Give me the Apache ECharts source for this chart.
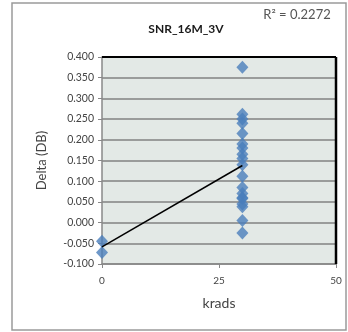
<!DOCTYPE html>
<html><head><meta charset="utf-8">
<script src="https://cdn.jsdelivr.net/npm/echarts@6/dist/echarts.min.js"></script>
<style>html,body{margin:0;padding:0;background:#fff}#c{width:348px;height:332px}</style>
</head><body><div id="c"></div>
<script>
const title = 'SNR_16M_3V';
const rSquaredText = 'R² = 0.2272';
const xName = 'krads';
const yName = 'Delta (DB)';
const krads0 = [0, 0];
const delta0 = [-0.045, -0.072];
const krads30 = [30,30,30,30,30,30,30,30,30,30,30,30,30,30,30,30,30,30,30];
const delta30 = [0.375, 0.262, 0.250, 0.240, 0.215, 0.190, 0.180, 0.165, 0.155, 0.140, 0.112, 0.085, 0.070, 0.060, 0.058, 0.045, 0.038, 0.005, -0.025];
const xTicks = [0, 25, 50];
const yMin = -0.1, yMax = 0.4, yStep = 0.05;

const xs = krads0.concat(krads30);
const ys = delta0.concat(delta30);
const pts = xs.map((x,i)=>[x, ys[i]]);
// least squares trendline
const n = xs.length;
const mx = xs.reduce((a,b)=>a+b,0)/n, my = ys.reduce((a,b)=>a+b,0)/n;
let sxy=0, sxx=0;
for(let i=0;i<n;i++){sxy+=(xs[i]-mx)*(ys[i]-my);sxx+=(xs[i]-mx)**2;}
const slope = sxy/sxx, icpt = my - slope*mx;
const xLo = Math.min(...xs), xHi = Math.max(...xs);
const trend = [[xLo, icpt+slope*xLo],[xHi, icpt+slope*xHi]];

const chart = echarts.init(document.getElementById('c'));
const font = 'Lato, "Open Sans", sans-serif';
chart.setOption({
  animation:false,
  textStyle:{fontFamily:font},
  graphic:[
    {type:'rect',shape:{x:12,y:3,width:334,height:327},style:{fill:'none',stroke:'#9a9a9a',lineWidth:1.5},z:-10},
    {type:'text',x:186,y:29,style:{text:title,font:'bold 12px '+font,fill:'#1a1a1a',align:'center',verticalAlign:'middle'}},
    {type:'text',x:297,y:15,style:{text:rSquaredText,font:'13px '+font,fill:'#555',align:'center',verticalAlign:'middle'}}
  ],
  grid:{left:102,right:12,top:57,bottom:68,show:true,backgroundColor:'#e3e9e6',borderColor:'transparent'},
  xAxis:{type:'value',min:xTicks[0],max:xTicks[xTicks.length-1],interval:25,
    name:xName,nameLocation:'middle',nameGap:32,nameTextStyle:{fontSize:14,color:'#444',fontFamily:font},
    axisLine:{show:true,onZero:false,lineStyle:{color:'#888',width:1.5}},
    axisTick:{show:true,length:4,lineStyle:{color:'#888'}},
    axisLabel:{color:'#444',fontSize:10,margin:12,fontFamily:font},
    splitLine:{show:false}},
  yAxis:{type:'value',min:yMin,max:yMax,interval:yStep,
    name:yName,nameLocation:'middle',nameGap:54,nameRotate:90,nameTextStyle:{fontSize:13,color:'#444',fontFamily:font},
    axisLine:{show:true,lineStyle:{color:'#888',width:1.5}},
    axisTick:{show:true,length:4,lineStyle:{color:'#888'}},
    axisLabel:{color:'#444',fontSize:10.5,margin:8,fontFamily:font,formatter:v=>v.toFixed(3)},
    splitLine:{show:true,lineStyle:{color:'#828282',width:1.5}}},
  series:[
    {type:'line',data:[[xTicks[xTicks.length-1],yMin],[xTicks[xTicks.length-1],yMax]],symbol:'none',lineStyle:{color:'#000',width:2.5},silent:true,z:1},
    {type:'line',data:[[xTicks[0],yMax],[xTicks[xTicks.length-1],yMax]],symbol:'none',lineStyle:{color:'#000',width:2},silent:true,z:1},
    {type:'scatter',data:pts,symbol:'diamond',symbolSize:[12,13],itemStyle:{color:'#4a7ebb'},z:3},
    {type:'line',data:trend,symbol:'none',lineStyle:{color:'#000',width:1.5},z:4}
  ]
});
</script></body></html>
